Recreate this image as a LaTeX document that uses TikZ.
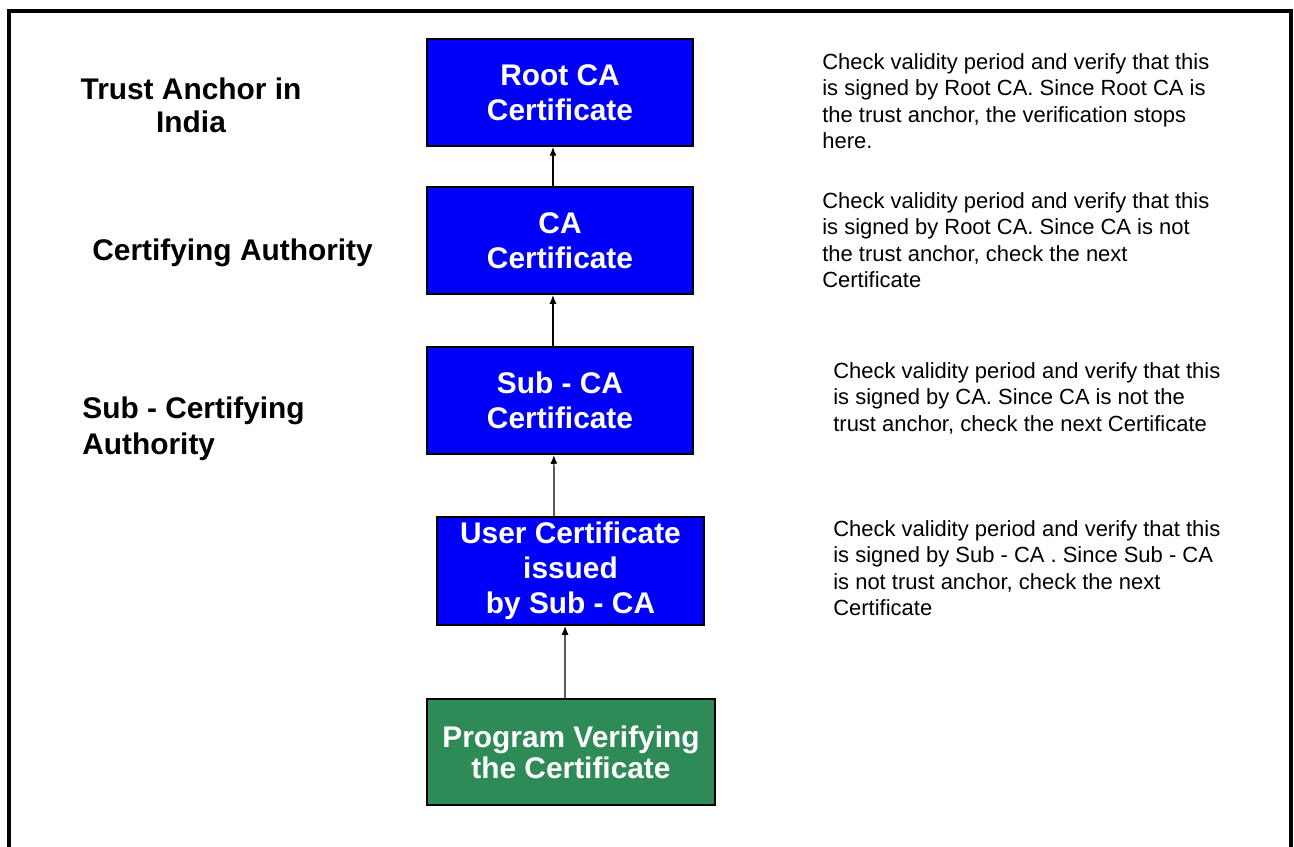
\documentclass[tikz,border=0pt]{standalone}
\usepackage{fontspec}
\setmainfont{Liberation Sans}
\setsansfont{Liberation Sans}
\usetikzlibrary{arrows.meta}

\definecolor{certblue}{RGB}{0,0,250}
\definecolor{proggreen}{RGB}{46,139,87}

\begin{document}
\begin{tikzpicture}[x=0.02cm, y=-0.02cm, font=\sffamily,
    certbox/.style={draw=black, line width=1.1pt, fill=certblue, text=white,
      inner sep=0pt, align=center, font=\sffamily\bfseries\fontsize{17}{20}\selectfont},
    levellabel/.style={inner sep=0pt, font=\sffamily\bfseries\fontsize{17}{19}\selectfont},
    checknote/.style={anchor=north west, inner sep=0pt, align=left,
      font=\sffamily\fontsize{12.5}{15.1}\selectfont},
    arr/.style={-{Latex[length=5pt,width=4pt]}, line width=0.7pt}]
      \useasboundingbox (0,0) rectangle (1294,846);

      %% frame
      \draw[line width=2.3pt] (9,860) -- (9,11) -- (1291,11) -- (1291,860);

      %% certificate chain
      \node[certbox, minimum width=5.32cm, minimum height=2.14cm] (root) at (560,92.5) {Root CA\\Certificate};
      \node[certbox, minimum width=5.32cm, minimum height=2.14cm] (ca) at (560,240.5) {CA\\Certificate};
      \node[certbox, minimum width=5.32cm, minimum height=2.14cm] (subca) at (560,400.5) {Sub - CA\\Certificate};
      \node[certbox, minimum width=5.34cm, minimum height=2.16cm] (user) at (570.5,571) {User Certificate\\issued\\by Sub - CA};
      \node[certbox, fill=proggreen, minimum width=5.76cm, minimum height=2.12cm,
        font=\sffamily\bfseries\fontsize{17}{17.6}\selectfont] (prog) at (571,752) {Program Verifying\\the Certificate};

      \draw[arr] ([xshift=-4pt]ca.north) -- ([xshift=-4pt]root.south);
      \draw[arr] ([xshift=-4pt]subca.north) -- ([xshift=-4pt]ca.south);
      \draw[arr] ([xshift=-9.4pt]user.north) -- ([xshift=-3.5pt]subca.south);
      \draw[arr] ([xshift=-3.4pt]prog.north) -- ([xshift=-3.1pt]user.south);

      %% levels
      \node[levellabel, anchor=north, align=center] (lvlroot) at (191,77) {Trust Anchor in\\India};
      \node[levellabel, anchor=base west] (lvlca) at (92,260) {Certifying Authority};
      \node[levellabel, anchor=north west, align=left,
        font=\sffamily\bfseries\fontsize{17}{21}\selectfont] (lvlsub) at (82,396) {Sub - Certifying\\Authority};

      %% checks
      \node[checknote] (chkroot) at (822,53) {Check validity period and verify that this\\is signed by Root CA. Since Root CA is\\the trust anchor, the verification stops\\here.};
      \node[checknote] (chkca) at (822,192) {Check validity period and verify that this\\is signed by Root CA. Since CA is not\\the trust anchor, check the next\\Certificate};
      \node[checknote] (chksub) at (833,362) {Check validity period and verify that this\\is signed by CA. Since CA is not the\\trust anchor, check the next Certificate};
      \node[checknote] (chkuser) at (833,520) {Check validity period and verify that this\\is signed by Sub - CA . Since Sub - CA\\is not trust anchor, check the next\\Certificate};

    \end{tikzpicture}
\end{document}
